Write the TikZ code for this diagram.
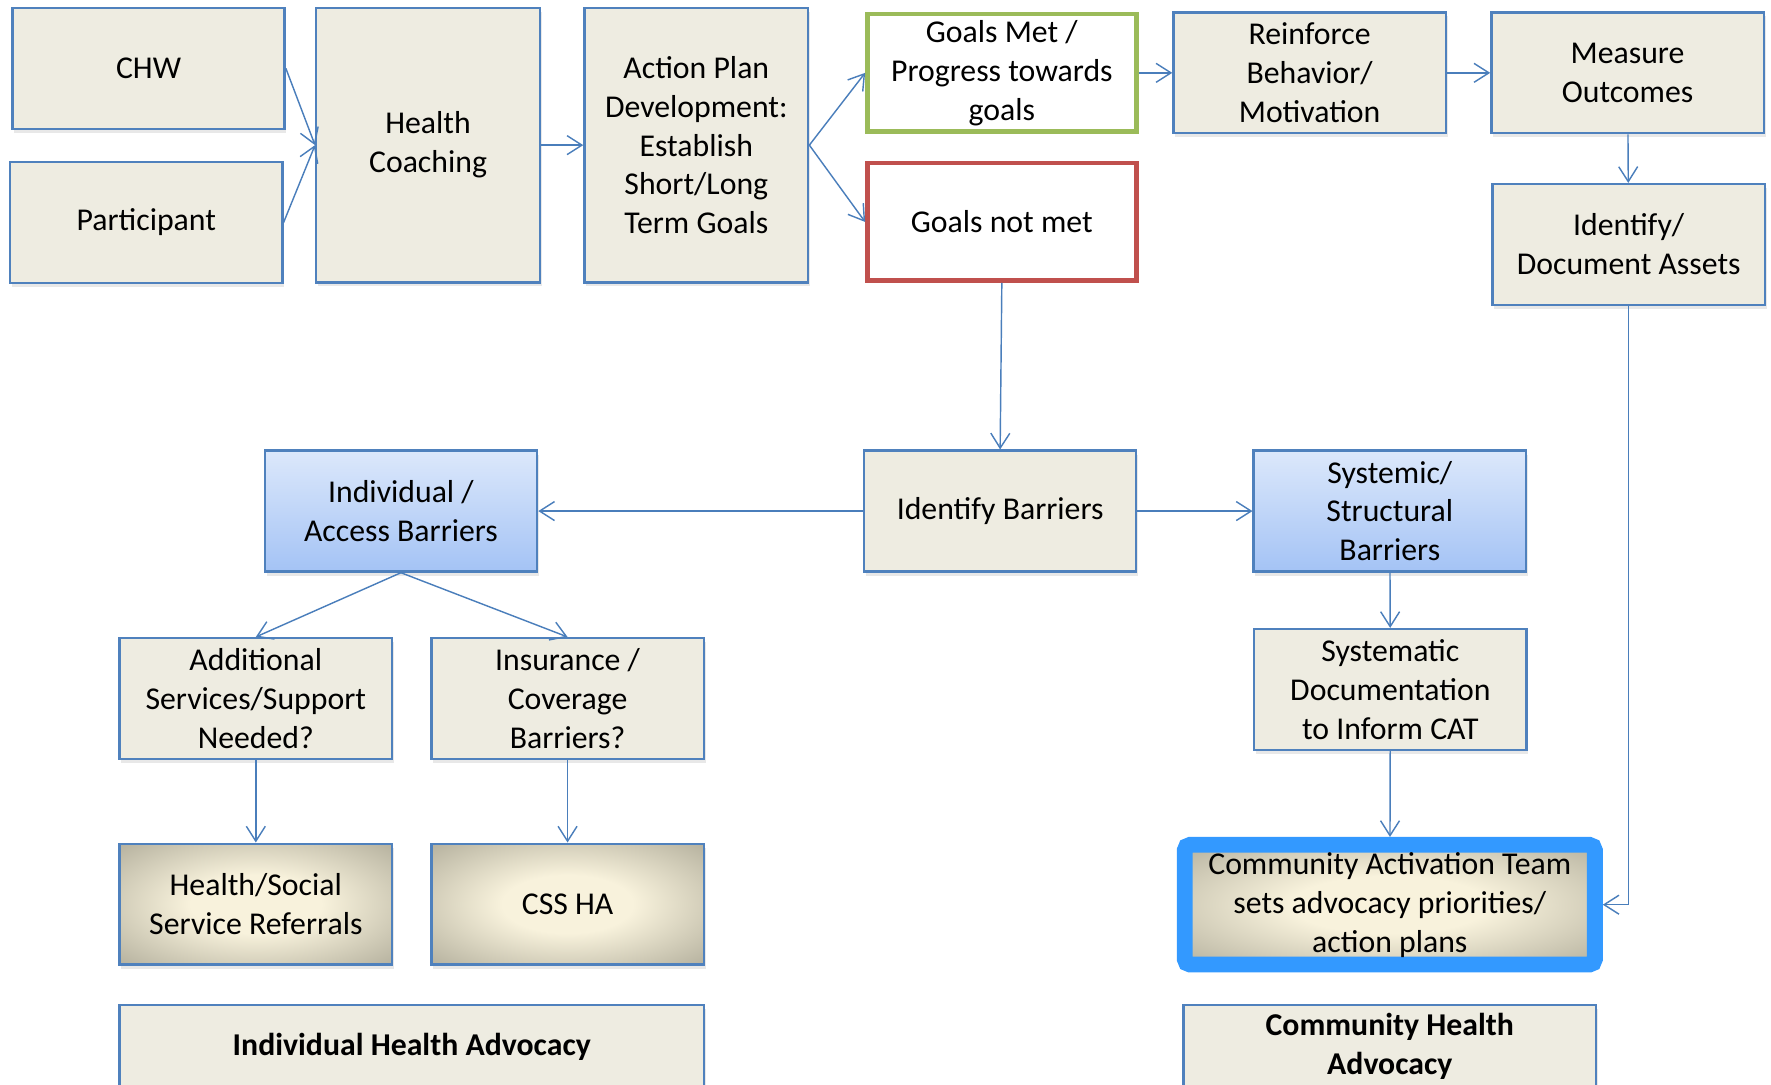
\documentclass[tikz,border=0pt]{standalone}
\usepackage{fontspec}
\setmainfont{Carlito}
\usetikzlibrary{arrows.meta,shadows}
\definecolor{boxfill}{HTML}{EEECE1}
\definecolor{boxline}{HTML}{4F81BD}
\definecolor{arrline}{HTML}{4A7EBB}
\definecolor{metline}{HTML}{9BBB59}
\definecolor{notline}{HTML}{C0504D}
\definecolor{bluetop}{HTML}{DCE8FB}
\definecolor{bluebot}{HTML}{A4C3F5}
\definecolor{glowin}{HTML}{F8F2DC}
\definecolor{glowout}{HTML}{8C8978}
\definecolor{catline}{HTML}{3399FF}
\pgfdeclareradialshading{glow}{\pgfpoint{0bp}{0bp}}{color(0bp)=(glowin);color(12bp)=(glowin);color(50bp)=(glowout);color(72bp)=(glowout)}

\begin{document}
\begin{tikzpicture}[x=0.025cm,y=-0.025cm,>={Straight Barb[length=0.33cm,width=0.42cm]},
  box/.style={draw=boxline,line width=1.5pt,fill=boxfill,minimum width=6.025cm,minimum height=2.675cm,
    align=center,font=\fontsize{20}{24.5}\selectfont,
    drop shadow={shadow xshift=0.04cm,shadow yshift=-0.09cm,opacity=0.18}},
  tallbox/.style={box,minimum width=4.95cm,minimum height=6.075cm},
  bluebox/.style={box,top color=bluetop,bottom color=bluebot},
  glowbox/.style={box,shading=glow},
  markbox/.style={draw=#1,line width=0.1cm,fill=white,minimum width=5.95cm,minimum height=2.6cm,
    align=center,font=\fontsize{20}{24.5}\selectfont},
  catbox/.style={draw=catline,line width=0.35cm,rounded corners=0.12cm,shading=glow,
    minimum width=9.075cm,minimum height=2.65cm,align=center,font=\fontsize{20}{24.5}\selectfont,
    drop shadow={shadow xshift=0.04cm,shadow yshift=-0.09cm,opacity=0.15}},
  labelbox/.style={box,minimum height=1.825cm,font=\fontsize{20}{24.5}\selectfont\bfseries},
  arr/.style={->,draw=arrline,line width=0.9pt}]
  \useasboundingbox (0,0) rectangle (1568,960);
  % coaching row
  \node[box] (chw) at (131.5,60.5) {CHW};
  \node[box] (part) at (129.5,197) {Participant};
  \node[tallbox] (coach) at (379,128.5) {Health\\Coaching};
  \node[tallbox] (plan) at (616.5,128.5) {Action Plan\\Development:\\Establish\\Short/Long\\Term Goals};
  \node[markbox=metline] (met) at (887,64.5) {Goals Met /\\Progress towards\\goals};
  \node[markbox=notline] (notmet) at (887,196.5) {Goals not met};
  \node[box] (reinf) at (1159.5,64.5) {Reinforce\\Behavior/\\Motivation};
  \node[box] (measure) at (1441,64.5) {Measure\\Outcomes};
  \node[box] (assets) at (1442,216.5) {Identify/\\Document Assets};
  % barriers
  \node[box] (idbar) at (885.5,452.5) {Identify Barriers};
  \node[bluebox] (indiv) at (355,452.5) {Individual /\\Access Barriers};
  \node[bluebox] (syst) at (1230.5,452.5) {Systemic/\\Structural\\Barriers};
  \node[box] (addl) at (226.5,618.5) {Additional\\Services/Support\\Needed?};
  \node[box] (insur) at (502.5,618.5) {Insurance /\\Coverage\\Barriers?};
  \node[glowbox] (refer) at (226.5,800.5) {Health/Social\\Service Referrals};
  \node[glowbox] (cssha) at (502.5,800.5) {CSS HA};
  \node[box] (sysdoc) at (1231,610.5) {Systematic\\Documentation\\to Inform CAT};
  \node[catbox] (cat) at (1230.5,801) {Community Activation Team\\sets advocacy priorities/\\action plans};
  % advocacy labels
  \node[labelbox,minimum width=12.925cm] (iha) at (364.5,926.5) {Individual Health Advocacy};
  \node[labelbox,minimum width=9.125cm] (cha) at (1230.5,926.5) {Community Health\\Advocacy};
  % connectors
  \draw[arr] (chw.east) -- (coach.west);
  \draw[arr] (part.east) -- (coach.west);
  \draw[arr] (coach) -- (plan);
  \draw[arr] (plan.east) -- (met.west);
  \draw[arr] (plan.east) -- (notmet.west);
  \draw[arr] (met) -- (reinf);
  \draw[arr] (reinf) -- (measure);
  \draw[arr] (measure) -- (assets);
  \draw[arr] (assets.south) |- (cat.east);
  \draw[arr] (notmet.south) -- (idbar.north);
  \draw[arr] (idbar) -- (indiv);
  \draw[arr] (idbar) -- (syst);
  \draw[arr] (indiv.south) -- (addl.north);
  \draw[arr] (indiv.south) -- (insur.north);
  \draw[arr] (addl) -- (refer);
  \draw[arr] (insur) -- (cssha);
  \draw[arr] (syst) -- (sysdoc);
  \draw[arr] (sysdoc) -- (cat);
\end{tikzpicture}
\end{document}
